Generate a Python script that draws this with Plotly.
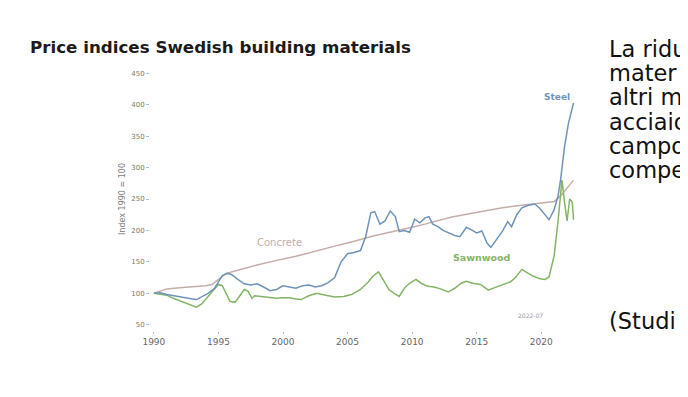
import plotly.graph_objects as go

# ---- data ----
steel_x = [1990.0, 1990.5, 1991.0, 1991.5, 1992.0, 1992.5, 1993.0, 1993.3, 1993.7, 1994.2, 1994.7, 1995.0,
           1995.3, 1995.7, 1996.0, 1996.5, 1997.0, 1997.5, 1998.0, 1998.5, 1999.0, 1999.5, 2000.0, 2000.5,
           2001.0, 2001.5, 2002.0, 2002.5, 2003.0, 2003.5, 2004.0, 2004.5, 2005.0, 2005.5, 2006.0, 2006.4,
           2006.8, 2007.1, 2007.5, 2007.9, 2008.3, 2008.7, 2009.0, 2009.4, 2009.8, 2010.2, 2010.6, 2011.0,
           2011.3, 2011.6, 2012.0, 2012.4, 2012.8, 2013.3, 2013.7, 2014.2, 2014.6, 2015.0, 2015.4, 2015.8,
           2016.1, 2016.5, 2017.0, 2017.4, 2017.7, 2018.1, 2018.5, 2019.0, 2019.5, 2019.9, 2020.3, 2020.6,
           2021.0, 2021.3, 2021.5, 2021.8, 2022.1, 2022.5]
steel_y = [100, 101, 98, 96, 95, 93, 91, 90, 94, 100, 108, 118,
           128, 132, 130, 122, 115, 113, 115, 110, 104, 106, 112, 110,
           108, 112, 113, 110, 112, 117, 125, 150, 163, 165, 168, 190,
           228, 230, 210, 215, 231, 222, 198, 200, 197, 218, 212, 220,
           222, 210, 206, 200, 196, 192, 190, 205, 201, 196, 199, 180,
           173, 185, 199, 214, 206, 225, 236, 240, 242, 235, 225, 217,
           233, 255, 281, 333, 370, 403]

concrete_x = [1990.0, 1990.5, 1991.0, 1992.0, 1993.0, 1994.0, 1994.5, 1995.0, 1995.5, 1996.0, 1997.0,
              1998.0, 1999.0, 2000.0, 2001.0, 2002.0, 2003.0, 2004.0, 2005.0, 2006.0, 2007.0, 2008.0,
              2009.0, 2010.0, 2011.0, 2012.0, 2013.0, 2014.0, 2015.0, 2016.0, 2017.0, 2018.0, 2019.0,
              2020.0, 2021.0, 2021.5, 2022.0, 2022.5]
concrete_y = [100, 104, 107, 109, 110, 112, 114, 122, 130, 134, 140,
              145, 150, 154, 159, 164, 170, 175, 180, 186, 191, 196,
              200, 205, 210, 216, 221, 225, 229, 232, 236, 239, 241,
              243, 246, 255, 268, 280]

sawn_x = [1990.0, 1990.5, 1991.0, 1991.5, 1992.0, 1992.5, 1993.0, 1993.3, 1993.7, 1994.2, 1994.7, 1995.0,
          1995.3, 1995.6, 1995.9, 1996.3, 1996.7, 1997.0, 1997.3, 1997.6, 1997.8, 1998.2, 1998.7, 1999.5,
          2000.0, 2000.5, 2001.0, 2001.4, 2002.0, 2002.6, 2003.3, 2004.0, 2004.7, 2005.3, 2006.0, 2006.6,
          2007.0, 2007.4, 2007.8, 2008.2, 2008.6, 2009.0, 2009.4, 2009.8, 2010.3, 2010.7, 2011.2, 2011.7,
          2012.2, 2012.8, 2013.3, 2013.8, 2014.2, 2014.7, 2015.3, 2015.9, 2016.4, 2017.0, 2017.6, 2018.0,
          2018.5, 2018.9, 2019.4, 2019.9, 2020.3, 2020.6, 2021.0, 2021.3, 2021.6, 2021.8, 2022.0, 2022.2,
          2022.4, 2022.5]
sawn_y = [100, 99, 97, 92, 88, 85, 80, 78, 83, 95, 108, 114,
          112, 98, 87, 86, 98, 106, 103, 92, 96, 95, 93, 92,
          93, 93, 91, 90, 96, 100, 97, 94, 95, 98, 106, 118,
          128, 134, 120, 106, 100, 95, 108, 116, 122, 116, 111, 110,
          107, 102, 108, 116, 119, 116, 114, 105, 109, 113, 118, 125,
          138, 133, 127, 123, 122, 126, 160, 215, 280, 245, 215, 250,
          245, 217]

x_ticks = [1990, 1995, 2000, 2005, 2010, 2015, 2020]
y_ticks = [50, 100, 150, 200, 250, 300, 350, 400, 450]

title_text = "Price indices Swedish building materials"
side_lines = ["La ridu", "mater", "altri m", "acciaio", "campo", "compe"]
side_note = "(Studi"

STEEL = "#6f93ba"
CONCRETE = "#c4aea9"
SAWN = "#84b466"

# the page body adds an 8px margin, so the figure is drawn 8px in from the window edge
OFF = 8
W, H = 688 - OFF, 397 - OFF
L, R, T, B = 150 - OFF, 108, 67 - OFF, 66

def px(xpix):
    return (xpix - OFF - L) / (W - L - R)

def py(ypix):
    return (H - B - (ypix - OFF)) / (H - T - B)

fig = go.Figure()
fig.add_trace(go.Scatter(x=concrete_x, y=concrete_y, mode="lines",
                         line=dict(color=CONCRETE, width=1.5), hoverinfo="skip"))
fig.add_trace(go.Scatter(x=sawn_x, y=sawn_y, mode="lines",
                         line=dict(color=SAWN, width=1.5), hoverinfo="skip"))
fig.add_trace(go.Scatter(x=steel_x, y=steel_y, mode="lines",
                         line=dict(color=STEEL, width=1.5), hoverinfo="skip"))

fig.update_layout(
    width=W, height=H,
    margin=dict(l=L, r=R, t=T, b=B),
    paper_bgcolor="white", plot_bgcolor="white",
    showlegend=False,
    title=dict(text="<b>" + title_text + "</b>", x=(30 - OFF) / W, xref="container", xanchor="left",
               y=1 - (47 - OFF) / H, yref="container", yanchor="middle",
               font=dict(family="DejaVu Sans", size=16.7, color="#1b1b1b")),
    xaxis=dict(range=[1989.7, 2023.0], tickvals=x_ticks, ticks="outside", ticklen=2,
               tickcolor="#bbbbbb", showgrid=False, zeroline=False, showline=False,
               tickfont=dict(family="DejaVu Sans", size=9, color="#666666")),
    yaxis=dict(range=[40, 460], tickvals=y_ticks, ticks="outside", ticklen=3,
               tickcolor="#bbbbbb", showgrid=False, zeroline=False, showline=False,
               tickfont=dict(family="DejaVu Sans", size=7, color="#777777"),
               title=dict(text="Index 1990 = 100", standoff=4,
                          font=dict(family="DejaVu Sans", size=8, color="#777777"))),
)

anns = []
for i, t in enumerate(side_lines):
    anns.append(dict(text=t, xref="paper", yref="paper", x=px(607), y=py(49 + 24.2 * i),
                     xanchor="left", yanchor="middle", showarrow=False,
                     font=dict(family="DejaVu Sans", size=22.5, color="#111111")))
anns.append(dict(text=side_note, xref="paper", yref="paper", x=px(607), y=py(321),
                 xanchor="left", yanchor="middle", showarrow=False,
                 font=dict(family="DejaVu Sans", size=22.5, color="#111111")))
anns.append(dict(text="<b>Steel</b>", x=2021.25, y=413, xref="x", yref="y", showarrow=False,
                 font=dict(family="DejaVu Sans", size=9, color=STEEL)))
anns.append(dict(text="Concrete", x=1999.7, y=181, xref="x", yref="y", showarrow=False,
                 font=dict(family="DejaVu Sans", size=10, color=CONCRETE)))
anns.append(dict(text="<b>Sawnwood</b>", x=2015.35, y=157, xref="x", yref="y", showarrow=False,
                 font=dict(family="DejaVu Sans", size=9.5, color=SAWN)))
anns.append(dict(text="2022-07", x=2019.15, y=65, xref="x", yref="y", showarrow=False,
                 font=dict(family="DejaVu Sans", size=6, color="#999999")))
fig.update_layout(annotations=anns)

fig.write_html("out.html")
